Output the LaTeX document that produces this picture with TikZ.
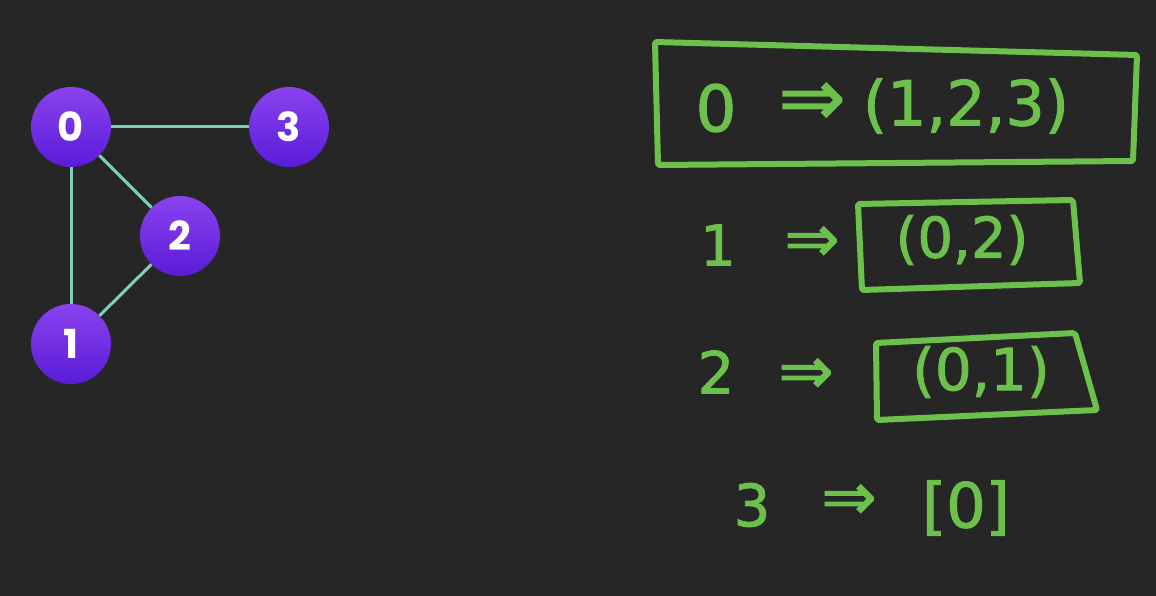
\documentclass[tikz,border=0pt]{standalone}
\usepackage{fontspec}
\newfontfamily\nodefont{Poppins}
\newfontfamily\hand{DejaVu Sans}[FakeBold=1.6]
\definecolor{bg}{HTML}{262626}
\definecolor{ptop}{HTML}{8A42EE}
\definecolor{pbot}{HTML}{5A1CD8}
\definecolor{edge}{HTML}{7FCFB7}
\definecolor{chalk}{HTML}{6CC04C}
\tikzset{
  vert/.style={circle, minimum size=80pt, inner sep=0pt, top color=ptop, bottom color=pbot,
    text=white, font=\nodefont\bfseries\fontsize{40}{40}\selectfont},
  link/.style={draw=edge, line width=3pt},
  hw/.style={text=chalk, inner sep=0pt, anchor=center},
  frame/.style={draw=chalk, line width=6pt, line join=round, rounded corners=2pt}
}
\begin{document}
\begin{tikzpicture}[x=1pt,y=-1pt]
\fill[bg] (0,0) rectangle (1156,596);
\useasboundingbox (0,0) rectangle (1156,596);
% graph
\node[vert] (n0) at (71,127) {0};
\node[vert] (n3) at (289,127) {3};
\node[vert] (n2) at (180,236) {2};
\node[vert] (n1) at (71,344) {1};
\draw[link] (n0) -- (n3);
\draw[link] (n0) -- (n2);
\draw[link] (n0) -- (n1);
\draw[link] (n2) -- (n1);
% row 0
\node[hw, font=\hand\fontsize{64}{64}\selectfont] (k0) at (716,108) {0};
\node[hw, font=\hand\fontsize{80}{80}\selectfont] (a0) at (812,104) {⇒};
\node[hw, font=\hand\fontsize{62}{62}\selectfont] (l0) at (966,106) {(1,2,3)};
\coordinate (b0a) at (655,42);
\coordinate (b0b) at (1137,55);
\coordinate (b0c) at (1133,161);
\coordinate (b0d) at (658,165);
\draw[frame] (b0a) -- (b0b) -- (b0c) -- (b0d) -- cycle;
% row 1
\node[hw, font=\hand\fontsize{56}{56}\selectfont] (k1) at (718,245) {1};
\node[hw, font=\hand\fontsize{66}{66}\selectfont] (a1) at (812,244) {⇒};
\node[hw, font=\hand\fontsize{56}{56}\selectfont] (l1) at (962,240) {(0,2)};
\coordinate (b1a) at (858,204);
\coordinate (b1b) at (1073,200);
\coordinate (b1c) at (1080,283);
\coordinate (b1d) at (862,290);
\draw[frame] (b1a) -- (b1b) -- (b1c) -- (b1d) -- cycle;
% row 2
\node[hw, font=\hand\fontsize{58}{58}\selectfont] (k2) at (716,372) {2};
\node[hw, font=\hand\fontsize{66}{66}\selectfont] (a2) at (806,376) {⇒};
\node[hw, font=\hand\fontsize{58}{58}\selectfont] (l2) at (981,372) {(0,1)};
\coordinate (b2a) at (876,343);
\coordinate (b2b) at (1075,333);
\coordinate (b2c) at (1097,410);
\coordinate (b2d) at (877,420);
\draw[frame] (b2a) -- (b2b) -- (b2c) -- (b2d) -- cycle;
% row 3
\node[hw, font=\hand\fontsize{58}{58}\selectfont] (k3) at (752,505) {3};
\node[hw, font=\hand\fontsize{66}{66}\selectfont] (a3) at (849,502) {⇒};
\node[hw, font=\hand\fontsize{62}{62}\selectfont] (l3) at (966,508) {[0]};
\end{tikzpicture}
\end{document}
